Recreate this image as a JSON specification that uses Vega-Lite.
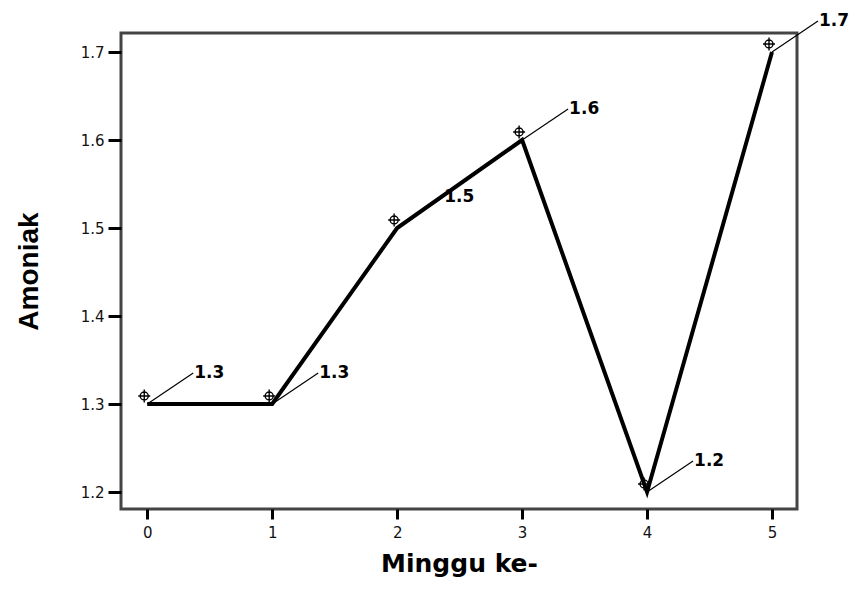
{
  "$schema": "https://vega.github.io/schema/vega-lite/v6.json",
  "width": 676,
  "height": 476,
  "autosize": {"type": "none"},
  "padding": {"left": 121, "top": 33, "right": 60, "bottom": 81},
  "background": "white",
  "config": {
    "view": {"stroke": "#444444", "strokeWidth": 3},
    "axis": {"domain": false, "grid": false, "tickColor": "black", "tickWidth": 3, "labelColor": "#111111", "titleColor": "black"}
  },
  "data": {
    "values": [
      {"minggu": 0, "amoniak": 1.3},
      {"minggu": 1, "amoniak": 1.3},
      {"minggu": 2, "amoniak": 1.5},
      {"minggu": 3, "amoniak": 1.6},
      {"minggu": 4, "amoniak": 1.2},
      {"minggu": 5, "amoniak": 1.7}
    ]
  },
  "encoding": {
    "x": {
      "field": "minggu", "type": "quantitative",
      "scale": {"domain": [-0.21, 5.2], "nice": false, "zero": false},
      "axis": {
        "values": [0, 1, 2, 3, 4, 5], "format": "d", "tickSize": 10,
        "labelFont": "DejaVu Sans", "labelFontSize": 15, "labelPadding": 6,
        "title": "Minggu ke-", "titleFont": "DejaVu Sans", "titleFontWeight": "bold",
        "titleFontSize": 25, "titlePadding": 11
      }
    },
    "y": {
      "field": "amoniak", "type": "quantitative",
      "scale": {"domain": [1.1807, 1.7216], "nice": false, "zero": false},
      "axis": {
        "values": [1.2, 1.3, 1.4, 1.5, 1.6, 1.7], "format": ".1f", "tickSize": 13,
        "labelFont": "DejaVu Sans", "labelFontSize": 15, "labelPadding": 4,
        "title": "Amoniak", "titleFont": "Liberation Sans", "titleFontWeight": "bold",
        "titleFontSize": 28, "titlePadding": 37
      }
    }
  },
  "layer": [
    {"mark": {"type": "line", "stroke": "black", "strokeWidth": 4}},
    {
      "mark": {"type": "rule", "stroke": "black", "strokeWidth": 1.2, "x2Offset": 46, "y2Offset": -31},
      "encoding": {"x2": {"field": "minggu"}, "y2": {"field": "amoniak"}}
    },
    {
      "mark": {
        "type": "point", "filled": false, "stroke": "black", "strokeWidth": 1.4, "opacity": 1,
        "shape": "M-1,0A1,1 0 1,1 1,0A1,1 0 1,1 -1,0Z M-1.5,0L1.5,0 M0,-1.6L0,1.6",
        "size": 64, "xOffset": -3, "yOffset": -8
      }
    },
    {
      "mark": {
        "type": "text", "align": "left", "baseline": "middle", "dx": 47, "dy": -31,
        "font": "DejaVu Sans", "fontWeight": "bold", "fontSize": 17, "color": "black"
      },
      "encoding": {"text": {"field": "amoniak", "type": "quantitative", "format": ".1f"}}
    }
  ]
}
